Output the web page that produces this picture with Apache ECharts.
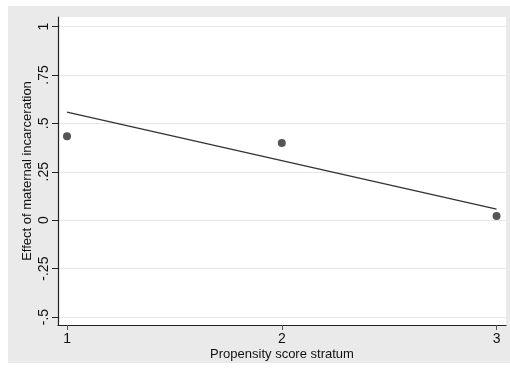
<!DOCTYPE html>
<html><head><meta charset="utf-8">
<script src="https://cdn.jsdelivr.net/npm/echarts@6/dist/echarts.min.js"></script>
<style>
html,body{margin:0;padding:0;background:#fff;}
#bg{position:absolute;left:8px;top:6px;width:502px;height:357px;background:#eaeaea;}
#c{position:absolute;left:0;top:0;width:510px;height:371px;}
</style></head>
<body>
<div id="bg"></div>
<div id="c"></div>
<script>
var strata = [1, 2, 3];
var effects = [0.434, 0.398, 0.022];
var fitX = [1, 3];
var fitY = [0.558, 0.057];
var yTicks = [-0.5, -0.25, 0, 0.25, 0.5, 0.75, 1];
var xTicks = [1, 2, 3];

function fmt(v){
  if (v === 0) return '0';
  var s = String(v);
  return s.replace(/^0\./, '.').replace(/^-0\./, '-.');
}
var chart = echarts.init(document.getElementById('c'), null, {renderer:'canvas'});
chart.setOption({
  animation:false,
  grid:{left:58, right:4, top:17, bottom:46, show:true, backgroundColor:'#fff', borderWidth:0},
  xAxis:{
    type:'value', min:0.958, max:3.044,
    name:'Propensity score stratum', nameLocation:'middle', nameGap:23, nameMoveOverlap:false,
    nameTextStyle:{color:'#111', fontSize:13, fontFamily:'Liberation Sans'},
    axisLine:{show:true, onZero:false, lineStyle:{color:'#222', width:1.2}},
    axisTick:{show:true, customValues:xTicks, length:5, lineStyle:{color:'#555'}},
    axisLabel:{customValues:xTicks, color:'#111', fontSize:14, fontFamily:'Liberation Sans', margin:7, formatter:function(v){return String(v);}},
    splitLine:{show:false}
  },
  yAxis:{
    type:'value', min:-0.541, max:1.049,
    name:'Effect of maternal incarceration', nameLocation:'middle', nameGap:24, nameMoveOverlap:false,
    nameTextStyle:{color:'#111', fontSize:13, fontFamily:'Liberation Sans'},
    axisLine:{show:true, onZero:false, lineStyle:{color:'#222', width:1.2}},
    axisTick:{show:true, customValues:yTicks, length:6, lineStyle:{color:'#222'}},
    axisLabel:{customValues:yTicks, rotate:90, color:'#111', fontSize:14, fontFamily:'Liberation Sans', margin:7, formatter:fmt},
    splitLine:{show:true, lineStyle:{color:'#e6e6e6', width:1}}
  },
  series:[
    {type:'line', data:fitX.map(function(x,i){return [x, fitY[i]];}), symbol:'none',
     lineStyle:{color:'#333', width:1.4}, z:3},
    {type:'scatter', data:strata.map(function(x,i){return [x, effects[i]];}), symbolSize:8,
     itemStyle:{color:'#2a2a2a'}, z:4}
  ]
});
</script>
</body></html>
